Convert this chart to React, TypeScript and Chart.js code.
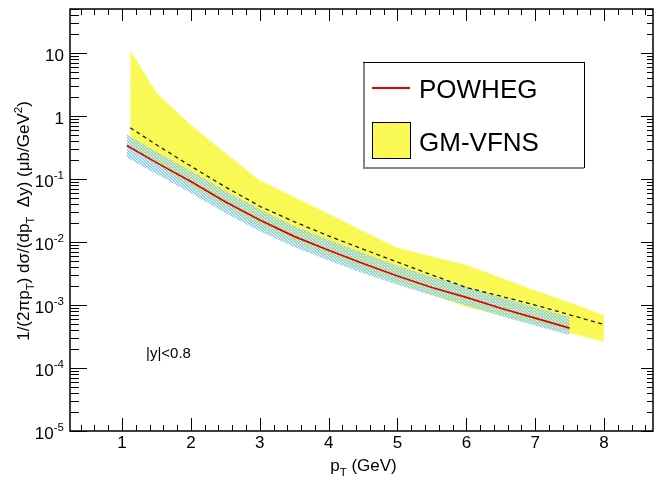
import React, { useEffect, useRef } from "react";
import { Chart, registerables } from "chart.js";

Chart.register(...registerables);

const FONT = "'Liberation Sans', Arial, Helvetica, sans-serif";

// POWHEG (red line + light-blue uncertainty band)
const powPt = [1.07, 1.5, 2, 2.5, 3, 3.5, 4, 4.5, 5, 5.5, 6, 6.5, 7, 7.5];
const powCentral = [0.34, 0.182, 0.091, 0.0437, 0.0224, 0.0123, 0.0074, 0.00457, 0.00288, 0.0019, 0.00132, 0.00089, 0.00062, 0.00043];
const powUpper = [0.51, 0.27, 0.135, 0.065, 0.033, 0.018, 0.0109, 0.0067, 0.0042, 0.0028, 0.00195, 0.00131, 0.00092, 0.00065];
const powLower = [0.22, 0.12, 0.06, 0.029, 0.0148, 0.0083, 0.0051, 0.0032, 0.0021, 0.00141, 0.00098, 0.00067, 0.00047, 0.00033];

// GM-VFNS (dashed central + yellow band)
const gmPt = [1.12, 1.5, 2, 2.5, 3, 3.5, 4, 4.5, 5, 5.5, 6, 6.5, 7, 7.5, 8];
const gmCentral = [0.65, 0.35, 0.16, 0.075, 0.037, 0.021, 0.0125, 0.0077, 0.0048, 0.003, 0.0019, 0.00138, 0.001, 0.0007, 0.00049];
const gmUpper = [11, 2.35, 0.72, 0.26, 0.095, 0.052, 0.028, 0.015, 0.0081, 0.0059, 0.0043, 0.0027, 0.0017, 0.0011, 0.00069];
const gmLower = [0.3, 0.165, 0.075, 0.035, 0.0175, 0.0098, 0.0058, 0.0036, 0.0023, 0.00145, 0.00093, 0.00068, 0.0005, 0.00036, 0.00026];

// axes
const xMin = 0.245;
const xMax = 8.71;
const yMin = 1e-5;
const yMax = 50;
const xMajorTicks = [1, 2, 3, 4, 5, 6, 7, 8];
const yDecades = [-5, -4, -3, -2, -1, 0, 1];

const legendLabels = ["POWHEG", "GM-VFNS"];
const rapidityLabel = "|y|<0.8";

type Seg = { t: string; s?: "sub" | "sup" };

const xTitle: Seg[] = [{ t: "p" }, { t: "T", s: "sub" }, { t: " (GeV)" }];
const yTitle: Seg[] = [
  { t: "1/(2πp" },
  { t: "T", s: "sub" },
  { t: ") dσ/(dp" },
  { t: "T", s: "sub" },
  { t: "  Δy) (μb/GeV" },
  { t: "2", s: "sup" },
  { t: ")" },
];

function segFont(size: number, s?: string) {
  const fs = s ? size * 0.68 : size;
  return `${fs}px ${FONT}`;
}

function richWidth(ctx: CanvasRenderingContext2D, segs: Seg[], size: number) {
  let w = 0;
  for (const sg of segs) {
    ctx.font = segFont(size, sg.s);
    w += ctx.measureText(sg.t).width;
  }
  return w;
}

function drawRich(ctx: CanvasRenderingContext2D, segs: Seg[], x: number, y: number, size: number) {
  let cx = x;
  ctx.textAlign = "left";
  ctx.textBaseline = "alphabetic";
  for (const sg of segs) {
    ctx.font = segFont(size, sg.s);
    let dy = 0;
    if (sg.s === "sub") dy = size * 0.3;
    if (sg.s === "sup") dy = -size * 0.42;
    ctx.fillText(sg.t, cx, y + dy);
    cx += ctx.measureText(sg.t).width;
  }
}

function makePattern(ctx: CanvasRenderingContext2D, color: string, dir: number) {
  const c = document.createElement("canvas");
  c.width = 3;
  c.height = 3;
  const g = c.getContext("2d")!;
  g.fillStyle = color;
  for (let i = 0; i < 3; i++) {
    for (let j = 0; j < 3; j++) {
      const k = dir > 0 ? (i + j) % 3 : (i - j + 3) % 3;
      if (k !== 0) g.fillRect(i, j, 1, 1);
    }
  }
  return ctx.createPattern(c, "repeat")!;
}

function makeFramePlugin(yellow: CanvasPattern) {
  return {
    id: "rootFrame",
    afterDraw(chart: any) {
      const { ctx, chartArea: a, scales } = chart;
      const xs = scales.x;
      const ys = scales.y;
      ctx.save();

      // legend box
      const lx = 363, ly = 62, lw = 221, lh = 105;
      ctx.fillStyle = "#ffffff";
      ctx.fillRect(lx, ly, lw, lh);
      ctx.strokeStyle = "#000";
      ctx.lineWidth = 1;
      ctx.strokeRect(lx + 0.5, ly + 0.5, lw, lh);
      ctx.strokeStyle = "#858585";
      ctx.lineWidth = 2;
      ctx.beginPath();
      ctx.moveTo(lx + 1, ly + 1);
      ctx.lineTo(lx + 1, ly + lh + 1);
      ctx.lineTo(lx + lw, ly + lh + 1);
      ctx.stroke();
      // POWHEG entry
      ctx.strokeStyle = "#e00000";
      ctx.lineWidth = 2;
      ctx.beginPath();
      ctx.moveTo(372, 88);
      ctx.lineTo(410, 88);
      ctx.stroke();
      // GM-VFNS entry
      ctx.fillStyle = yellow;
      ctx.fillRect(372, 122, 39, 37);
      ctx.strokeStyle = "#000";
      ctx.lineWidth = 1;
      ctx.strokeRect(372.5, 122.5, 38, 36);
      ctx.fillStyle = "#000";
      ctx.font = `26px ${FONT}`;
      ctx.textAlign = "left";
      ctx.textBaseline = "alphabetic";
      ctx.fillText(legendLabels[0], 419, 98);
      ctx.fillText(legendLabels[1], 419, 151);

      // rapidity label
      ctx.font = `15px ${FONT}`;
      ctx.fillText(rapidityLabel, 146, 358);

      // frame
      ctx.strokeStyle = "#000";
      ctx.lineWidth = 1.5;
      ctx.strokeRect(a.left, a.top, a.right - a.left, a.bottom - a.top);

      // ticks
      ctx.lineWidth = 1;
      ctx.beginPath();
      for (let k = 2; k <= 43; k++) {
        const v = k * 0.2;
        if (v > xMax) continue;
        const px = Math.round(xs.getPixelForValue(v)) + 0.5;
        const major = k % 5 === 0;
        const lb = major ? 13 : 6;
        const lt = major ? 12 : 6;
        ctx.moveTo(px, a.bottom);
        ctx.lineTo(px, a.bottom - lb);
        ctx.moveTo(px, a.top);
        ctx.lineTo(px, a.top + lt);
      }
      for (const e of yDecades) {
        for (let m = 1; m <= 9; m++) {
          const v = m * Math.pow(10, e);
          if (v > yMax || v < yMin) continue;
          const py = Math.round(ys.getPixelForValue(v)) + 0.5;
          const major = m === 1;
          const ll = major ? 17 : 9;
          const lr = major ? 12 : 6;
          ctx.moveTo(a.left, py);
          ctx.lineTo(a.left + ll, py);
          ctx.moveTo(a.right, py);
          ctx.lineTo(a.right - lr, py);
        }
      }
      ctx.stroke();

      // x tick labels
      ctx.fillStyle = "#000";
      ctx.font = `17px ${FONT}`;
      ctx.textAlign = "center";
      ctx.textBaseline = "alphabetic";
      for (const t of xMajorTicks) {
        ctx.fillText(String(t), xs.getPixelForValue(t), 448);
      }

      // y tick labels
      for (const e of yDecades) {
        const py = ys.getPixelForValue(Math.pow(10, e));
        let segs: Seg[];
        if (e === 0) segs = [{ t: "1" }];
        else if (e === 1) segs = [{ t: "10" }];
        else segs = [{ t: "10" }, { t: String(e), s: "sup" }];
        const w = richWidth(ctx, segs, 17);
        drawRich(ctx, segs, 64 - w, py + 7.5, 17);
      }

      // x title
      const xw = richWidth(ctx, xTitle, 17);
      drawRich(ctx, xTitle, (a.left + a.right) / 2 + 2 - xw / 2, 471, 17);

      // y title
      ctx.save();
      ctx.translate(29, 221);
      ctx.rotate(-Math.PI / 2);
      const yw = richWidth(ctx, yTitle, 17);
      drawRich(ctx, yTitle, -yw / 2, 0, 17);
      ctx.restore();

      ctx.restore();
    },
  };
}

export default function App() {
  const ref = useRef<HTMLCanvasElement>(null);

  useEffect(() => {
    const canvas = ref.current!;
    const ctx = canvas.getContext("2d")!;
    const yellow = makePattern(ctx, "#ffff00", 1);
    const blue = makePattern(ctx, "#8fd2f5", -1);
    const pts = (xs: number[], ys: number[]) => xs.map((x, i) => ({ x, y: ys[i] }));
    const noLine = { borderWidth: 0, borderColor: "rgba(0,0,0,0)", pointRadius: 0, pointHoverRadius: 0, tension: 0 };

    const chart = new Chart(ctx, {
      type: "line",
      data: {
        datasets: [
          { label: "gmUpper", data: pts(gmPt, gmUpper), fill: "+1", backgroundColor: yellow, order: 5, ...noLine },
          { label: "gmLower", data: pts(gmPt, gmLower), fill: false, order: 5, ...noLine },
          { label: "powUpper", data: pts(powPt, powUpper), fill: "+1", backgroundColor: blue, order: 4, ...noLine },
          { label: "powLower", data: pts(powPt, powLower), fill: false, order: 4, ...noLine },
          {
            label: "POWHEG",
            data: pts(powPt, powCentral),
            fill: false,
            borderColor: "#e00000",
            borderWidth: 1.7,
            pointRadius: 0,
            tension: 0,
            order: 2,
          },
          {
            label: "GM-VFNS",
            data: pts(gmPt, gmCentral),
            fill: false,
            borderColor: "#1a1a1a",
            borderWidth: 1.3,
            borderDash: [4, 3.5],
            pointRadius: 0,
            tension: 0,
            order: 1,
          },
        ] as any,
      },
      options: {
        animation: false,
        responsive: false,
        events: [],
        layout: { padding: { left: 70, right: 1, top: 9, bottom: 46 } },
        plugins: { legend: { display: false }, tooltip: { enabled: false } },
        scales: {
          x: { type: "linear", min: xMin, max: xMax, display: false },
          y: { type: "logarithmic", min: yMin, max: yMax, display: false, bounds: "data" },
        },
      } as any,
      plugins: [makeFramePlugin(yellow)],
    });
    return () => chart.destroy();
  }, []);

  return (
    <div style={{ position: "fixed", left: 0, top: 0, width: 654, height: 477, background: "#fff" }}>
      <canvas ref={ref} width={654} height={477} style={{ display: "block", width: 654, height: 477 }} />
    </div>
  );
}
